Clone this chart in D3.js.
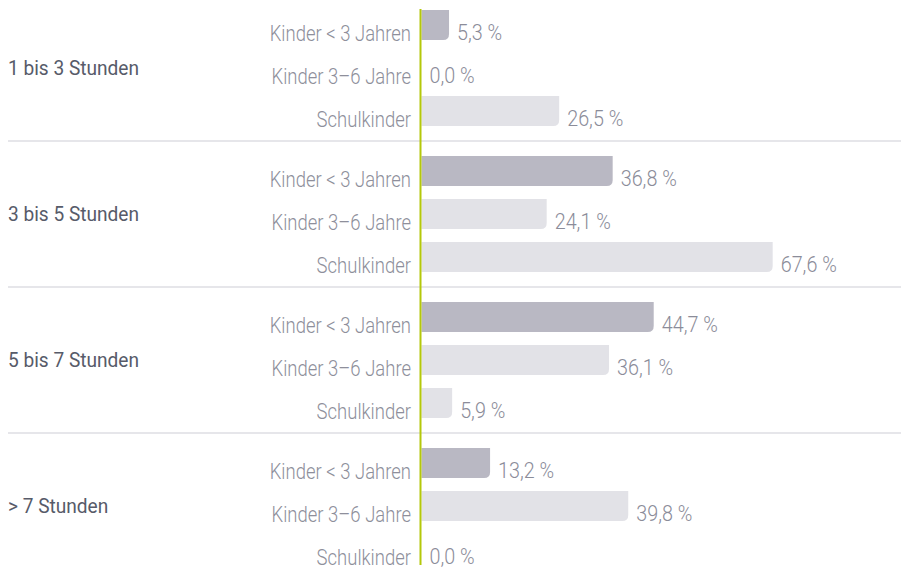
<!DOCTYPE html>
<html lang="de">
<head>
  <meta charset="utf-8"/>
  <title>Betreuungszeiten</title>
  <script src="https://d3js.org/d3.v7.min.js"></script>
  <style>
    body { margin: 0; background: #fff; }
    text { font-family: "Roboto", sans-serif; }
  </style>
</head>
<body>
<svg id="chart" width="901" height="568"></svg>
<script>
  // data
  const groups = ["1 bis 3 Stunden", "3 bis 5 Stunden", "5 bis 7 Stunden", "> 7 Stunden"];
  const ageGroups = ["Kinder < 3 Jahren", "Kinder 3–6 Jahre", "Schulkinder"];
  const under3 = [5.3, 36.8, 44.7, 13.2];
  const age3to6 = [0.0, 24.1, 36.1, 39.8];
  const schoolKids = [26.5, 67.6, 5.9, 0.0];

  const series = [under3, age3to6, schoolKids];
  const barColors = ["#b9b8c3", "#e2e2e7", "#e2e2e7"];

  let rows = [];
  groups.forEach((g, gi) => {
    ageGroups.forEach((a, ai) => {
      rows.push({ group: g, age: a, value: series[ai][gi], color: barColors[ai] });
    });
  });

  const svg = d3.select("#chart");
  const x = d3.scaleLinear().domain([0, 100]).range([421.5, 941]);
  const yGroup = d3.scaleBand().domain(groups).range([10, 10 + 4 * 146]);
  const yRow = d3.scaleBand().domain(ageGroups).range([0, 116]).paddingInner(13 / 43).paddingOuter(0);
  const bh = yRow.bandwidth();
  const rowsSpan = yRow.range()[1];

  const rowTop = d => yGroup(d.group) + yRow(d.age);
  const fmt = v => v.toFixed(1).replace(".", ",") + " %";
  // condensed look: squeeze text horizontally
  const place = (px, py, k) => "translate(" + px + "," + py + ") scale(" + k + ",1)";

  // separators between groups
  const sepY = g => yGroup(g) - (yGroup.bandwidth() - rowsSpan) / 2;
  svg.selectAll("line.sep").data(groups.slice(1))
    .enter().append("line").attr("class", "sep")
    .attr("x1", 8).attr("x2", 901)
    .attr("y1", sepY).attr("y2", sepY)
    .attr("stroke", "#e6e6ea").attr("stroke-width", 2);

  // bars with a rounded bottom-right corner
  function barPath(d) {
    const x0 = x(0), x1 = x(d.value), y0 = rowTop(d), y1 = y0 + bh;
    const r = Math.min(6, x1 - x0);
    return "M" + x0 + "," + y0 + "H" + x1 + "V" + (y1 - r) +
      "Q" + x1 + "," + y1 + " " + (x1 - r) + "," + y1 + "H" + x0 + "Z";
  }
  svg.selectAll("path.bar").data(rows.filter(d => d.value > 0))
    .enter().append("path").attr("class", "bar")
    .attr("d", barPath)
    .attr("fill", d => d.color);

  // value labels
  svg.selectAll("text.val").data(rows)
    .enter().append("text").attr("class", "val")
    .attr("transform", d => place(x(d.value) + 8, rowTop(d) + bh, 0.92))
    .attr("font-size", 21.5)
    .attr("font-weight", 300)
    .attr("fill", "#8b8c99")
    .text(d => fmt(d.value));

  // category labels
  svg.selectAll("text.age").data(rows)
    .enter().append("text").attr("class", "age")
    .attr("transform", d => place(411, rowTop(d) + bh + 1, 0.86))
    .attr("text-anchor", "end")
    .attr("font-size", 21.5)
    .attr("font-weight", 300)
    .attr("fill", "#8e8f9b")
    .text(d => d.age);

  // group labels
  svg.selectAll("text.grp").data(groups)
    .enter().append("text").attr("class", "grp")
    .attr("transform", g => place(8, yGroup(g) + 65, 0.91))
    .attr("font-size", 21)
    .attr("fill", "#575b69")
    .text(g => g);

  // green baseline
  svg.append("line")
    .attr("x1", 420.5).attr("x2", 420.5)
    .attr("y1", yGroup.range()[0] - 1)
    .attr("y2", yGroup(groups[3]) + yRow(ageGroups[2]) + bh + 1)
    .attr("stroke", "#b4c80a").attr("stroke-width", 2);
</script>
</body>
</html>
